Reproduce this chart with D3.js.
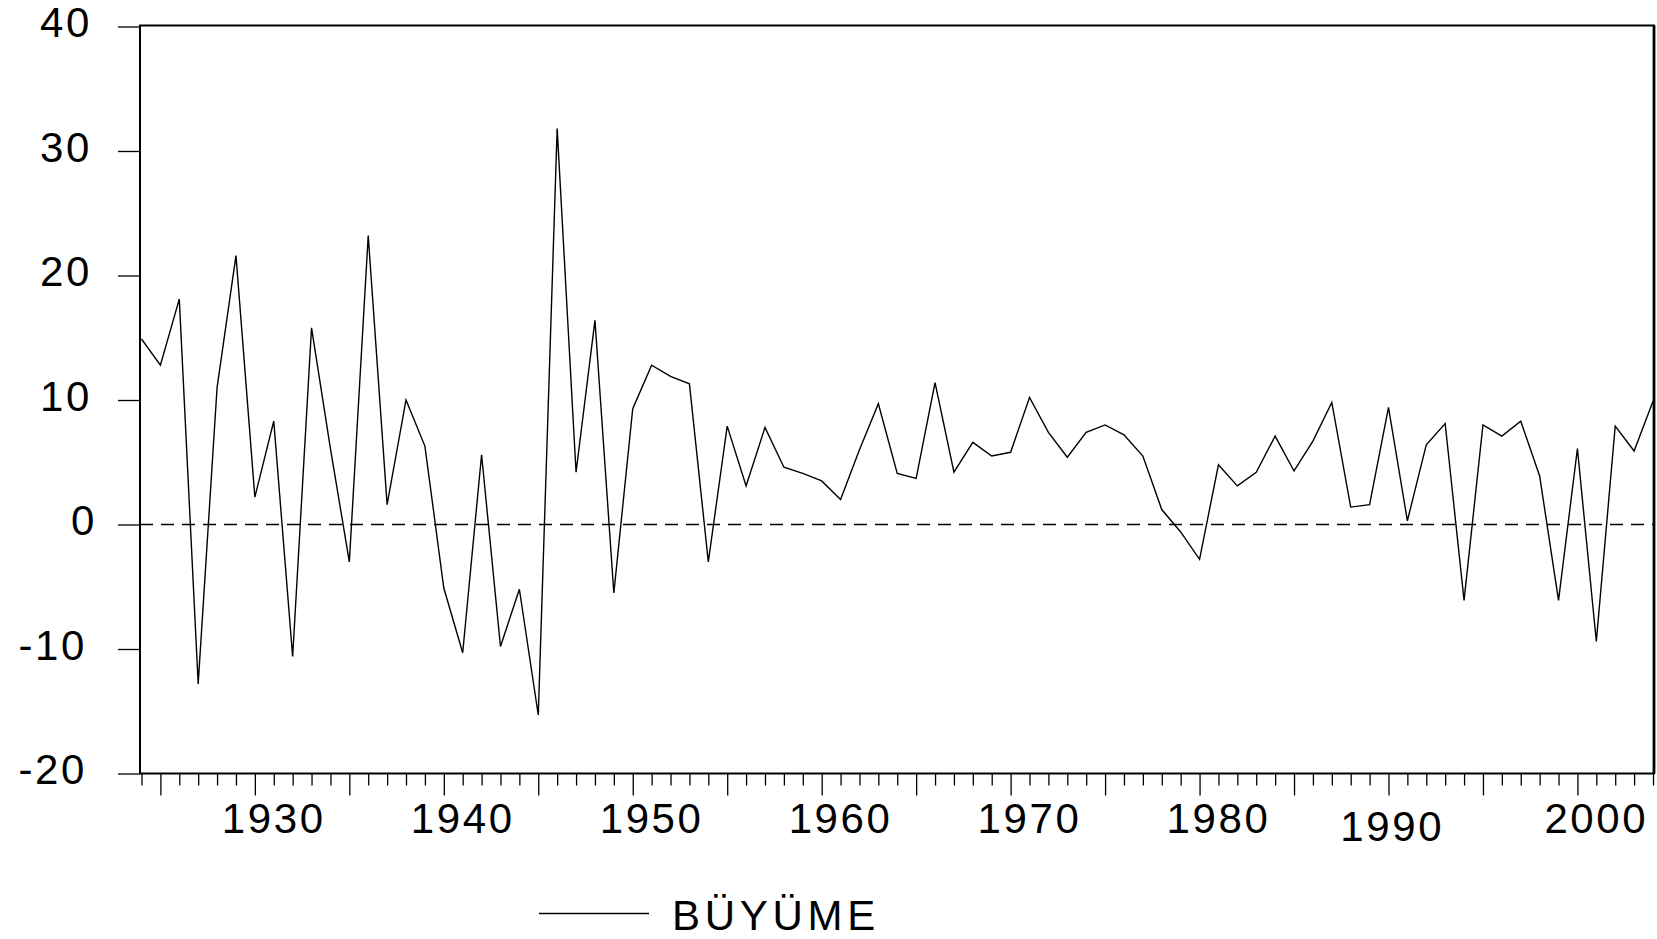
<!DOCTYPE html>
<html>
<head>
<meta charset="utf-8">
<script src="https://cdn.jsdelivr.net/npm/d3@7"></script>
<style>
  body { margin: 0; background: #fff; }
  text { font-family: "Liberation Sans", Arial, sans-serif; fill: #000; }
</style>
</head>
<body>
<script>
// annual growth (BÜYÜME), first observation 1924
const firstYear = 1924;
const growth = [
  14.9, 12.8, 18.1, -12.8, 11.0, 21.6, 2.2, 8.3, -10.6, 15.8,
  6.1, -3.0, 23.2, 1.6, 10.0, 6.3, -5.1, -10.3, 5.6, -9.8,
  -5.2, -15.3, 31.8, 4.2, 16.4, -5.5, 9.3, 12.8, 11.9, 11.3,
  -3.0, 7.9, 3.1, 7.8, 4.6, 4.1, 3.5, 2.0, 6.0, 9.7,
  4.1, 3.7, 11.4, 4.2, 6.6, 5.5, 5.8, 10.2, 7.4, 5.4,
  7.4, 8.0, 7.2, 5.5, 1.2, -0.6, -2.8, 4.8, 3.1, 4.2,
  7.1, 4.3, 6.7, 9.8, 1.4, 1.6, 9.4, 0.3, 6.4, 8.1,
  -6.1, 8.0, 7.1, 8.3, 3.9, -6.1, 6.1, -9.4, 7.9, 5.9,
  9.9
];
const yTicks = [-20, -10, 0, 10, 20, 30, 40];
const yearLabels = [1930, 1940, 1950, 1960, 1970, 1980, 1990, 2000];
const seriesName = 'BÜYÜME';

const data = growth.map((v, i) => ({ year: firstYear + i, value: v }));
const years = data.map(d => d.year);

const width = 1657;
const height = 939;
const plotLeft = 140, plotRight = 1654, plotTop = 25.5, plotBottom = 773.5;

const svg = d3.select('body')
  .append('svg')
  .attr('width', width)
  .attr('height', height);

const x = d3.scaleLinear()
  .domain([firstYear, years[years.length - 1]])
  .range([141.5, 1653]);

const y = d3.scaleLinear()
  .domain([-20, 40])
  .range([plotBottom, 26.5]);

// y axis, ticks outside the frame
const yAxis = svg.append('g')
  .attr('transform', 'translate(' + plotLeft + ',0)')
  .call(d3.axisLeft(y).tickValues(yTicks).tickFormat(d => String(d))
    .tickSize(22).tickSizeOuter(0));
yAxis.select('.domain').remove();
yAxis.selectAll('line').attr('stroke', '#000').attr('stroke-width', 1.3);
yAxis.selectAll('text')
  .attr('x', d => 102 - 5 * String(d).length - plotLeft)
  .attr('dy', null)
  .attr('y', 10)
  .attr('font-size', 42)
  .attr('letter-spacing', 2.6)
  .attr('font-family', null);

// x axis, one tick per year, longer every five years
const xAxis = svg.append('g')
  .attr('transform', 'translate(0,' + plotBottom + ')')
  .call(d3.axisBottom(x).tickValues(years).tickFormat('').tickSizeOuter(0));
xAxis.select('.domain').remove();
xAxis.selectAll('line')
  .attr('y2', d => d % 5 === 0 ? 22 : 12)
  .attr('stroke', '#000')
  .attr('stroke-width', 1.3);

svg.append('g')
  .selectAll('text')
  .data(yearLabels)
  .join('text')
  .attr('x', d => x(d === 1990 ? d + 0.2 : d + 1))
  .attr('y', d => d === 1990 ? 841 : 833)
  .attr('text-anchor', 'middle')
  .attr('font-size', 42)
  .attr('letter-spacing', 2.6)
  .text(d => d);

// zero line
svg.append('line')
  .attr('x1', plotLeft).attr('x2', plotRight)
  .attr('y1', y(0)).attr('y2', y(0))
  .attr('stroke', '#000')
  .attr('stroke-width', 1.3)
  .attr('stroke-dasharray', '13,8');

// series
const line = d3.line()
  .x(d => x(d.year))
  .y(d => y(d.value));

svg.append('path')
  .datum(data)
  .attr('d', line)
  .attr('fill', 'none')
  .attr('stroke', '#000')
  .attr('stroke-width', 1.4)
  .attr('stroke-linejoin', 'miter');

// frame
svg.append('rect')
  .attr('x', plotLeft).attr('y', plotTop)
  .attr('width', plotRight - plotLeft).attr('height', plotBottom - plotTop)
  .attr('fill', 'none')
  .attr('stroke', '#000')
  .attr('stroke-width', 2);
svg.append('line')
  .attr('x1', plotRight).attr('x2', plotRight)
  .attr('y1', plotTop).attr('y2', plotBottom)
  .attr('stroke', '#000')
  .attr('stroke-width', 2.8);

// legend
const legend = svg.append('g');
legend.append('line')
  .attr('x1', 539).attr('x2', 649)
  .attr('y1', 913.5).attr('y2', 913.5)
  .attr('stroke', '#000')
  .attr('stroke-width', 1.4);
legend.append('text')
  .attr('x', 672)
  .attr('y', 930)
  .attr('font-size', 42)
  .attr('letter-spacing', 4.7)
  .text(seriesName);
</script>
</body>
</html>
